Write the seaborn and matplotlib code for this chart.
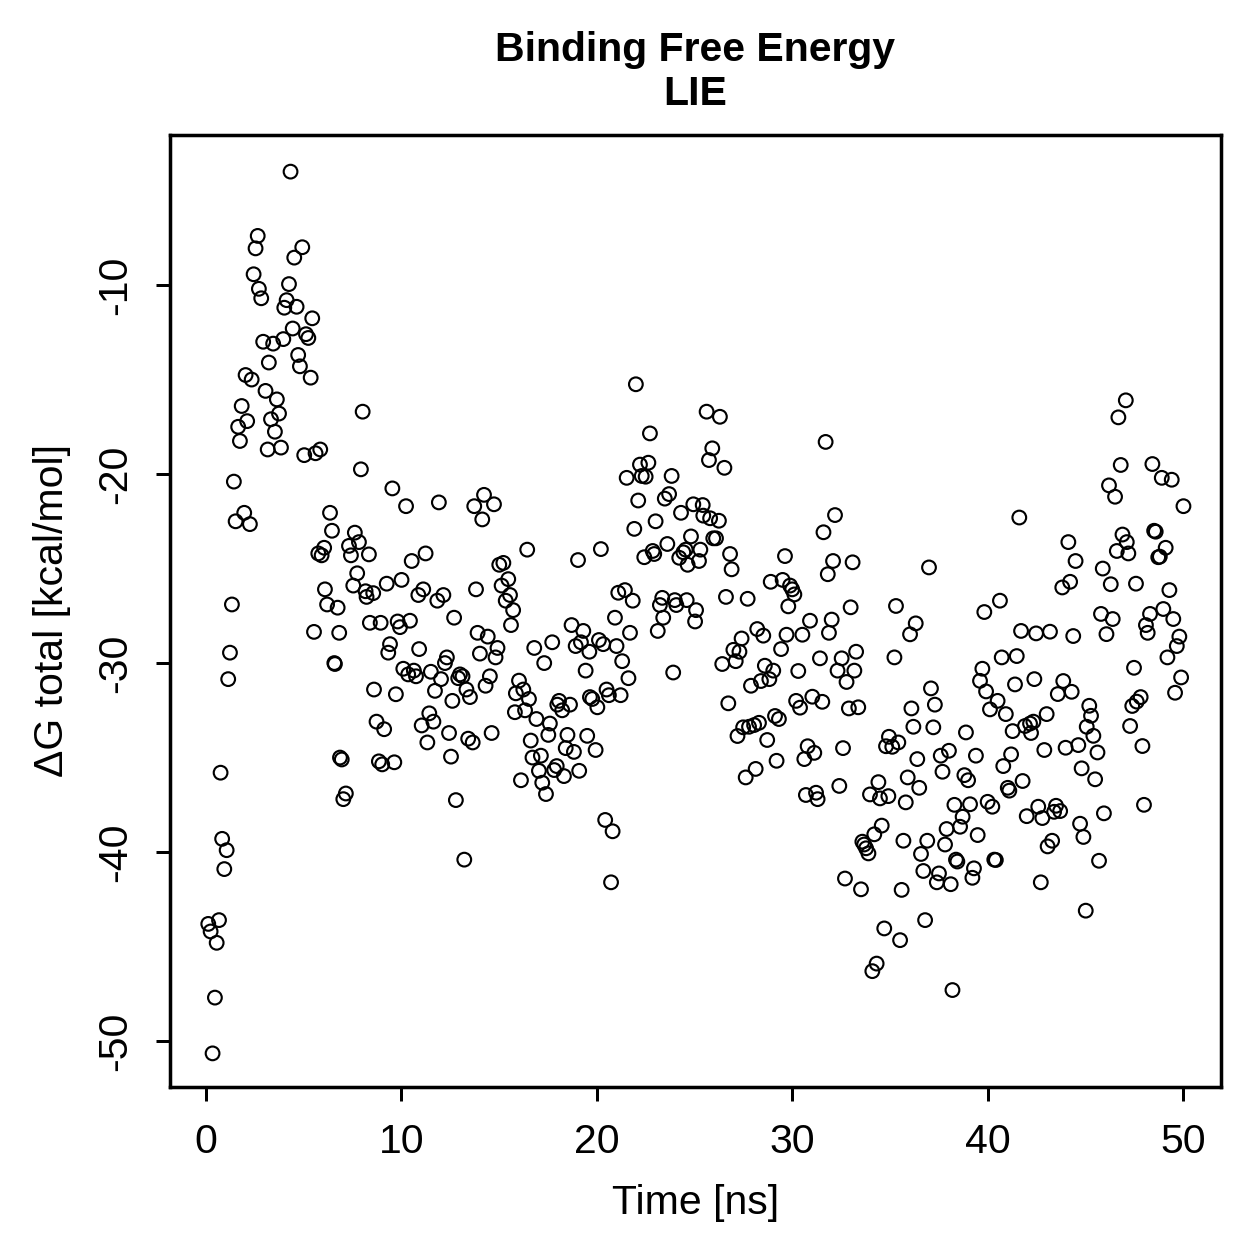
import matplotlib
matplotlib.use("Agg")
import matplotlib.pyplot as plt
import pandas as pd
import seaborn as sns

# time [ns] and Delta G total [kcal/mol]
time_ns = [
    0.12, 0.24, 0.34, 0.46, 0.55, 0.67, 0.75, 0.83, 0.94, 1.06,
    1.14, 1.23, 1.33, 1.43, 1.52, 1.65, 1.74, 1.83, 1.96, 2.03,
    2.11, 2.25, 2.34, 2.44, 2.54, 2.65, 2.71, 2.83, 2.93, 3.05,
    3.16, 3.22, 3.33, 3.44, 3.53, 3.63, 3.74, 3.84, 3.96, 4.01,
    4.13, 4.25, 4.33, 4.44, 4.52, 4.64, 4.72, 4.81, 4.93, 5.03,
    5.12, 5.24, 5.36, 5.44, 5.53, 5.61, 5.75, 5.85, 5.92, 6.05,
    6.09, 6.20, 6.35, 6.45, 6.57, 6.60, 6.74, 6.82, 6.86, 6.95,
    7.03, 7.16, 7.32, 7.42, 7.54, 7.62, 7.74, 7.83, 7.93, 8.02,
    8.17, 8.22, 8.34, 8.39, 8.56, 8.60, 8.73, 8.85, 8.94, 9.02,
    9.12, 9.25, 9.33, 9.42, 9.54, 9.64, 9.72, 9.81, 9.93, 10.01,
    10.10, 10.24, 10.35, 10.44, 10.53, 10.64, 10.75, 10.87, 10.91, 11.04,
    11.12, 11.24, 11.33, 11.43, 11.51, 11.64, 11.72, 11.84, 11.92, 12.03,
    12.15, 12.23, 12.33, 12.44, 12.54, 12.61, 12.70, 12.79, 12.91, 13.00,
    13.13, 13.22, 13.33, 13.42, 13.51, 13.65, 13.73, 13.82, 13.90, 14.02,
    14.14, 14.23, 14.31, 14.42, 14.53, 14.62, 14.74, 14.82, 14.92, 15.01,
    15.13, 15.22, 15.34, 15.47, 15.56, 15.61, 15.72, 15.81, 15.86, 16.02,
    16.12, 16.24, 16.33, 16.44, 16.53, 16.62, 16.71, 16.80, 16.91, 17.04,
    17.14, 17.21, 17.31, 17.40, 17.52, 17.60, 17.72, 17.82, 17.95, 17.98,
    18.07, 18.23, 18.32, 18.41, 18.50, 18.63, 18.71, 18.83, 18.92, 19.04,
    19.10, 19.19, 19.31, 19.43, 19.51, 19.62, 19.65, 19.77, 19.94, 20.03,
    20.11, 20.21, 20.33, 20.43, 20.50, 20.62, 20.73, 20.81, 20.93, 21.01,
    21.10, 21.22, 21.30, 21.44, 21.53, 21.62, 21.70, 21.84, 21.92, 22.00,
    22.12, 22.21, 22.30, 22.43, 22.50, 22.64, 22.72, 22.86, 22.94, 23.01,
    23.12, 23.23, 23.35, 23.40, 23.48, 23.61, 23.70, 23.83, 23.91, 23.99,
    24.07, 24.22, 24.31, 24.43, 24.55, 24.60, 24.65, 24.82, 24.94, 25.03,
    25.08, 25.23, 25.30, 25.42, 25.45, 25.62, 25.74, 25.80, 25.91, 25.96,
    26.10, 26.25, 26.30, 26.42, 26.53, 26.61, 26.73, 26.82, 26.90, 26.99,
    27.11, 27.20, 27.30, 27.41, 27.49, 27.62, 27.72, 27.79, 27.89, 28.05,
    28.13, 28.21, 28.30, 28.40, 28.52, 28.60, 28.72, 28.83, 28.90, 29.03,
    29.12, 29.20, 29.32, 29.43, 29.51, 29.63, 29.71, 29.80, 29.89, 30.00,
    30.11, 30.20, 30.31, 30.40, 30.52, 30.62, 30.70, 30.79, 30.91, 31.03,
    31.13, 31.22, 31.30, 31.42, 31.54, 31.60, 31.71, 31.82, 31.88, 32.02,
    32.09, 32.19, 32.32, 32.41, 32.53, 32.60, 32.70, 32.78, 32.90, 32.99,
    33.09, 33.18, 33.27, 33.38, 33.52, 33.59, 33.68, 33.78, 33.90, 33.98,
    34.10, 34.20, 34.32, 34.41, 34.49, 34.58, 34.71, 34.80, 34.92, 34.95,
    35.12, 35.23, 35.31, 35.43, 35.52, 35.60, 35.69, 35.81, 35.91, 36.03,
    36.10, 36.20, 36.32, 36.40, 36.50, 36.59, 36.71, 36.80, 36.91, 37.00,
    37.10, 37.22, 37.30, 37.40, 37.51, 37.60, 37.69, 37.82, 37.90, 38.02,
    38.11, 38.20, 38.30, 38.38, 38.45, 38.59, 38.72, 38.81, 38.89, 39.00,
    39.10, 39.22, 39.30, 39.40, 39.49, 39.61, 39.73, 39.83, 39.92, 40.00,
    40.12, 40.24, 40.34, 40.42, 40.51, 40.63, 40.72, 40.80, 40.93, 41.03,
    41.11, 41.20, 41.28, 41.40, 41.49, 41.62, 41.71, 41.79, 41.91, 42.00,
    42.17, 42.22, 42.34, 42.39, 42.48, 42.59, 42.72, 42.80, 42.90, 43.02,
    43.07, 43.19, 43.30, 43.40, 43.50, 43.59, 43.71, 43.82, 43.87, 43.99,
    44.13, 44.22, 44.30, 44.38, 44.50, 44.64, 44.73, 44.81, 44.90, 45.02,
    45.07, 45.20, 45.29, 45.41, 45.50, 45.62, 45.70, 45.80, 45.89, 45.95,
    46.08, 46.21, 46.30, 46.40, 46.52, 46.61, 46.69, 46.81, 46.90, 47.07,
    47.12, 47.20, 47.29, 47.40, 47.49, 47.59, 47.63, 47.83, 47.92, 48.00,
    48.10, 48.19, 48.31, 48.43, 48.52, 48.60, 48.73, 48.81, 48.91, 48.99,
    49.11, 49.20, 49.30, 49.42, 49.50, 49.59, 49.68, 49.81, 49.90, 50.02,
]

dg_total = [
    -43.8, -44.2, -50.65, -47.7, -44.8, -43.6, -35.8, -39.3, -40.9, -39.9,
    -30.85, -29.45, -26.9, -20.4, -22.5, -17.5, -18.25, -16.4, -22.05, -14.76,
    -17.2, -22.65, -15.0, -9.43, -8.06, -7.4, -10.2, -10.7, -13.0, -15.6,
    -18.7, -14.1, -17.1, -13.1, -17.76, -16.05, -16.8, -18.6, -12.86, -11.2,
    -10.8, -9.95, -4.0, -12.3, -8.55, -11.15, -13.7, -14.3, -8.0, -19.0,
    -12.6, -12.8, -14.9, -11.76, -28.35, -18.9, -24.2, -18.7, -24.3, -23.9,
    -26.1, -26.9, -22.05, -23.0, -30.0, -30.05, -27.07, -28.4, -35.0, -35.1,
    -37.2, -36.9, -23.8, -24.3, -25.9, -23.1, -25.25, -23.6, -19.75, -16.7,
    -26.2, -26.5, -24.25, -27.87, -26.3, -31.4, -33.1, -35.2, -27.87, -35.36,
    -33.5, -25.8, -29.45, -29.0, -20.76, -35.25, -31.65, -27.8, -28.1, -25.6,
    -30.3, -21.7, -30.6, -27.76, -24.6, -30.4, -30.7, -26.4, -29.26, -33.3,
    -26.1, -24.2, -34.2, -32.66, -30.46, -33.1, -31.47, -26.7, -21.5, -30.85,
    -26.4, -30.0, -29.7, -33.7, -34.95, -32.0, -27.6, -37.25, -30.8, -30.6,
    -30.7, -40.4, -31.4, -34.0, -31.8, -34.2, -21.7, -26.1, -28.4, -29.5,
    -22.4, -21.1, -31.2, -28.6, -30.7, -33.7, -21.6, -29.7, -29.2, -24.8,
    -25.9, -24.7, -26.7, -25.56, -26.4, -27.99, -27.2, -32.6, -31.6, -30.93,
    -36.2, -31.4, -32.5, -24.0, -31.9, -34.1, -35.0, -29.2, -32.96, -35.7,
    -34.9, -36.33, -30.0, -36.93, -33.8, -33.2, -28.9, -35.66, -35.45, -32.2,
    -32.0, -32.5, -35.98, -34.5, -33.8, -32.2, -27.99, -34.7, -29.1, -24.55,
    -35.7, -28.9, -28.3, -30.4, -33.85, -29.4, -31.8, -31.9, -34.6, -32.34,
    -28.78, -23.97, -29.0, -38.3, -31.4, -31.7, -41.6, -38.9, -27.6, -29.1,
    -26.28, -31.7, -29.9, -26.14, -20.2, -30.8, -28.4, -26.7, -22.9, -15.25,
    -21.4, -19.5, -20.1, -24.4, -20.14, -19.4, -17.85, -24.07, -24.23, -22.5,
    -28.3, -26.93, -26.55, -27.6, -21.3, -23.7, -21.06, -20.1, -30.5, -26.67,
    -26.93, -24.43, -22.05, -24.14, -24.0, -26.67, -24.8, -23.3, -21.6, -27.8,
    -27.2, -24.6, -24.0, -21.64, -22.2, -16.7, -19.26, -22.34, -18.64, -23.4,
    -23.4, -22.47, -16.97, -30.05, -19.67, -26.5, -32.13, -24.23, -25.04, -29.3,
    -29.9, -33.86, -29.4, -28.7, -33.4, -36.05, -26.6, -33.37, -31.2, -33.28,
    -35.6, -28.2, -33.16, -30.95, -28.55, -30.14, -34.07, -30.85, -25.7, -30.4,
    -32.8, -35.17, -32.96, -29.26, -25.6, -24.34, -28.5, -27.0, -25.9, -26.1,
    -26.37, -32.0, -30.42, -32.36, -28.5, -35.08, -36.98, -34.4, -27.76, -31.78,
    -34.75, -36.86, -37.2, -29.75, -32.05, -23.08, -18.3, -25.3, -28.4, -27.7,
    -24.6, -22.17, -30.4, -36.5, -29.75, -34.5, -41.4, -31.0, -32.4, -27.05,
    -24.67, -30.4, -29.4, -32.34, -41.97, -39.45, -39.6, -39.8, -40.07, -36.95,
    -46.3, -39.06, -45.9, -36.3, -37.16, -38.6, -44.04, -34.4, -37.04, -33.9,
    -34.43, -29.7, -26.98, -34.2, -44.66, -42.0, -39.4, -37.37, -36.05, -28.48,
    -32.4, -33.37, -27.9, -35.08, -36.6, -40.1, -41.0, -43.6, -39.4, -24.94,
    -31.34, -33.4, -32.2, -41.6, -41.13, -34.9, -35.75, -39.6, -38.78, -34.64,
    -41.7, -47.3, -37.5, -40.4, -40.5, -38.66, -38.13, -35.93, -33.67, -36.2,
    -37.47, -41.36, -40.86, -34.9, -39.1, -30.94, -30.3, -27.3, -31.5, -37.34,
    -32.45, -37.6, -40.4, -40.42, -32.0, -26.7, -29.7, -35.45, -32.7, -36.6,
    -36.75, -34.83, -33.6, -31.13, -29.63, -22.3, -28.3, -36.24, -33.33, -38.1,
    -33.2, -33.7, -33.1, -30.85, -28.43, -37.6, -41.6, -38.2, -34.6, -32.7,
    -39.7, -28.34, -39.4, -37.87, -37.55, -31.64, -37.83, -26.0, -30.95, -34.48,
    -23.6, -25.7, -31.52, -28.57, -24.6, -34.34, -38.5, -35.57, -39.2, -43.1,
    -33.37, -32.26, -32.79, -33.85, -36.15, -34.73, -40.46, -27.4, -25.0, -37.95,
    -28.47, -20.6, -25.83, -27.67, -21.2, -24.07, -17.0, -19.52, -23.2, -16.1,
    -23.6, -24.2, -33.33, -32.27, -30.25, -25.8, -32.04, -31.8, -34.39, -37.5,
    -27.99, -28.4, -27.4, -19.47, -23.0, -23.05, -24.4, -24.37, -20.2, -27.14,
    -23.9, -29.7, -26.14, -20.3, -27.67, -31.57, -29.1, -28.6, -30.76, -21.7,
]

x_ticks = [0, 10, 20, 30, 40, 50]
y_ticks = [-10, -20, -30, -40, -50]

df = pd.DataFrame({"time": time_ns, "dg": dg_total})

sns.set_style("ticks")
plt.rcParams["font.family"] = ["Liberation Sans", "DejaVu Sans"]
plt.rcParams["text.color"] = "black"
plt.rcParams["axes.labelcolor"] = "black"

fig = plt.figure(figsize=(1259 / 180, 1259 / 180), dpi=180)
ax = fig.add_axes([0.135, 0.1366, 0.8348, 0.7562])

sns.scatterplot(data=df, x="time", y="dg", ax=ax, marker="o", s=30,
                facecolor="none", edgecolor="black", linewidth=0.85)

ax.set_xlim(-1.84, 51.94)
ax.set_ylim(-52.43, -2.06)
ax.set_xticks(x_ticks)
ax.set_yticks(y_ticks)
ax.set_yticklabels([str(v) for v in y_ticks], rotation=90, va="center")

for side in ax.spines.values():
    side.set_visible(True)
    side.set_linewidth(1.4)
    side.set_color("black")

ax.tick_params(axis="both", direction="out", length=5.5, width=1.2,
               labelsize=16.4, colors="black", pad=9)

ax.set_xlabel("Time [ns]", fontsize=16.4, labelpad=9, color="black")
ax.set_ylabel("\u0394G total [kcal/mol]", fontsize=16.4, labelpad=10,
              color="black")
ax.set_title("Binding Free Energy\nLIE", fontsize=16.4, fontweight="bold",
             pad=12, color="black")

fig.savefig("out.png", dpi=180)
